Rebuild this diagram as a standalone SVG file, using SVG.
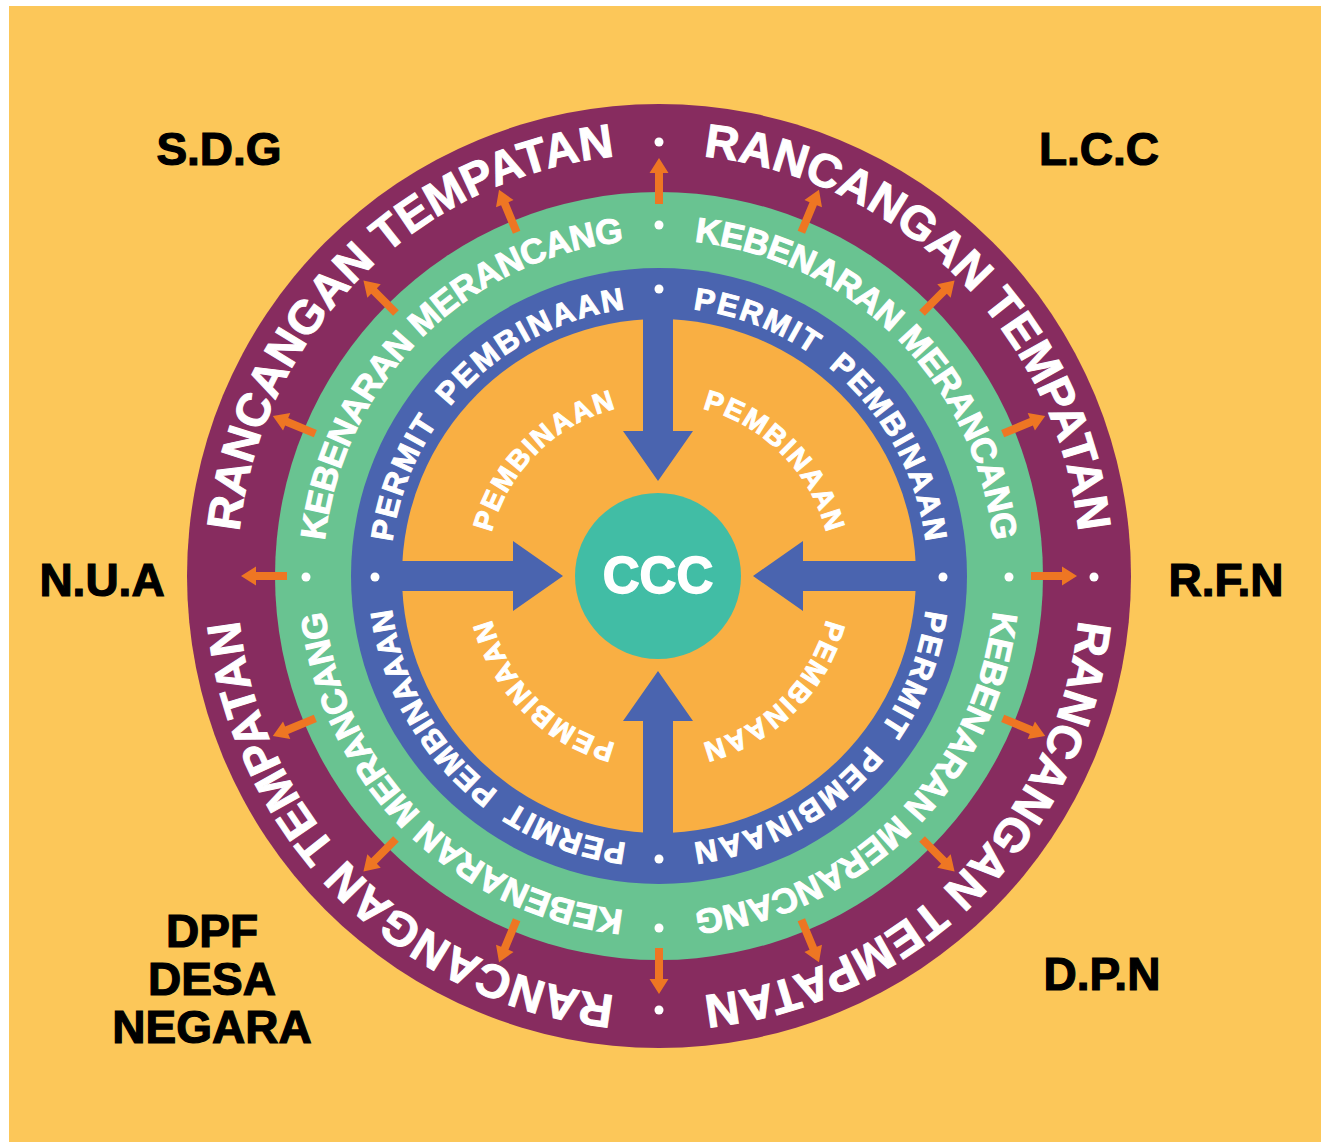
<svg xmlns="http://www.w3.org/2000/svg" xmlns:xlink="http://www.w3.org/1999/xlink" width="1321" height="1142" viewBox="0 0 1321 1142">
<style>
.lbl{font-family:"Liberation Sans",Arial,sans-serif;font-weight:700;fill:#000;text-anchor:middle;stroke:#000;stroke-width:1.2}
.rt{font-family:"Liberation Sans",Arial,sans-serif;font-weight:700;fill:#fff;text-anchor:middle;stroke:#fff;stroke-width:1}
.dot{fill:#fff}
.sa{fill:#EE7623}
.ba{fill:#4A64AF}
</style>
<defs>
<path id="pP" d="M659,154 A422,422 0 0 1 659,998 A422,422 0 0 1 659,154"/>
<path id="pG" d="M659,240 A336,336 0 0 1 659,912 A336,336 0 0 1 659,240"/>
<path id="pB" d="M659,307 A269,269 0 0 1 659,845 A269,269 0 0 1 659,307"/>
<path id="pO" d="M659,403 A173,173 0 0 1 659,749 A173,173 0 0 1 659,403"/>
<path id="smallArrow" d="M-4,-372 L4,-372 L4,-403 L9.5,-403 L0,-418 L-9.5,-403 L-4,-403 Z"/>
<path id="bigArrow" d="M-15,-262 L15,-262 L15,-145 L35,-145 L0,-95 L-35,-145 L-15,-145 Z"/>
</defs>
<rect x="0" y="0" width="1321" height="1142" fill="#fff"/>
<rect x="9" y="6" width="1312" height="1136" fill="#FCC759"/>

<g id="ring-outer">
<circle cx="659" cy="576" r="472" fill="#872C5F"/>
<text class="rt" font-size="47"><textPath href="#pP" startOffset="12.5%" textLength="574" lengthAdjust="spacing">RANCANGAN TEMPATAN</textPath></text>
<text class="rt" font-size="47"><textPath href="#pP" startOffset="37.5%" textLength="574" lengthAdjust="spacing">RANCANGAN TEMPATAN</textPath></text>
<text class="rt" font-size="47"><textPath href="#pP" startOffset="62.5%" textLength="574" lengthAdjust="spacing">RANCANGAN TEMPATAN</textPath></text>
<text class="rt" font-size="47"><textPath href="#pP" startOffset="87.5%" textLength="574" lengthAdjust="spacing">RANCANGAN TEMPATAN</textPath></text>
<circle class="dot" cx="659" cy="142" r="4.5"/>
<circle class="dot" cx="1094" cy="577" r="4.5"/>
<circle class="dot" cx="659" cy="1010" r="4.5"/>
</g>

<g id="ring-green">
<circle cx="659" cy="576" r="384" fill="#69C391"/>
<text class="rt" font-size="35"><textPath href="#pG" startOffset="12.5%" textLength="457" lengthAdjust="spacing">KEBENARAN MERANCANG</textPath></text>
<text class="rt" font-size="35"><textPath href="#pG" startOffset="37.5%" textLength="457" lengthAdjust="spacing">KEBENARAN MERANCANG</textPath></text>
<text class="rt" font-size="35"><textPath href="#pG" startOffset="62.5%" textLength="457" lengthAdjust="spacing">KEBENARAN MERANCANG</textPath></text>
<text class="rt" font-size="35"><textPath href="#pG" startOffset="87.5%" textLength="457" lengthAdjust="spacing">KEBENARAN MERANCANG</textPath></text>
<circle class="dot" cx="659" cy="225" r="4.5"/>
<circle class="dot" cx="1009" cy="577" r="4.5"/>
<circle class="dot" cx="659" cy="928" r="4.5"/>
<circle class="dot" cx="306" cy="577" r="4.5"/>
</g>

<g id="ring-blue">
<circle cx="659" cy="576" r="308" fill="#4A64AF"/>
<text class="rt" font-size="31" word-spacing="8"><textPath href="#pB" startOffset="12.5%" textLength="354" lengthAdjust="spacing">PERMIT PEMBINAAN</textPath></text>
<text class="rt" font-size="31" word-spacing="8"><textPath href="#pB" startOffset="37.5%" textLength="354" lengthAdjust="spacing">PERMIT PEMBINAAN</textPath></text>
<text class="rt" font-size="31" word-spacing="8"><textPath href="#pB" startOffset="62.5%" textLength="357" lengthAdjust="spacing">PERMIT PEMBINAAAN</textPath></text>
<text class="rt" font-size="31" word-spacing="8"><textPath href="#pB" startOffset="87.5%" textLength="354" lengthAdjust="spacing">PERMIT PEMBINAAN</textPath></text>
<circle class="dot" cx="659" cy="289" r="4.5"/>
<circle class="dot" cx="943" cy="577" r="4.5"/>
<circle class="dot" cx="659" cy="859" r="4.5"/>
<circle class="dot" cx="375" cy="577" r="4.5"/>
</g>

<g id="ring-inner">
<circle cx="659" cy="576" r="257" fill="#F9AF43"/>
<text class="rt" font-size="28" stroke-width="0.7"><textPath href="#pO" startOffset="12.5%" textLength="184" lengthAdjust="spacing">PEMBINAAN</textPath></text>
<text class="rt" font-size="28" stroke-width="0.7"><textPath href="#pO" startOffset="37.5%" textLength="184" lengthAdjust="spacing">PEMBINAAN</textPath></text>
<text class="rt" font-size="28" stroke-width="0.7"><textPath href="#pO" startOffset="62.5%" textLength="184" lengthAdjust="spacing">PEMBINAAN</textPath></text>
<text class="rt" font-size="28" stroke-width="0.7"><textPath href="#pO" startOffset="87.5%" textLength="184" lengthAdjust="spacing">PEMBINAAN</textPath></text>
</g>

<g id="connectors">
<use href="#bigArrow" class="ba" transform="translate(658,576) rotate(0)"/>
<use href="#bigArrow" class="ba" transform="translate(658,576) rotate(90)"/>
<use href="#bigArrow" class="ba" transform="translate(658,576) rotate(180)"/>
<use href="#bigArrow" class="ba" transform="translate(658,576) rotate(270)"/>
<use href="#smallArrow" class="sa" transform="translate(659,576) rotate(0)"/>
<use href="#smallArrow" class="sa" transform="translate(659,576) rotate(22.5)"/>
<use href="#smallArrow" class="sa" transform="translate(659,576) rotate(45)"/>
<use href="#smallArrow" class="sa" transform="translate(659,576) rotate(67.5)"/>
<use href="#smallArrow" class="sa" transform="translate(659,576) rotate(90)"/>
<use href="#smallArrow" class="sa" transform="translate(659,576) rotate(112.5)"/>
<use href="#smallArrow" class="sa" transform="translate(659,576) rotate(135)"/>
<use href="#smallArrow" class="sa" transform="translate(659,576) rotate(157.5)"/>
<use href="#smallArrow" class="sa" transform="translate(659,576) rotate(180)"/>
<use href="#smallArrow" class="sa" transform="translate(659,576) rotate(202.5)"/>
<use href="#smallArrow" class="sa" transform="translate(659,576) rotate(225)"/>
<use href="#smallArrow" class="sa" transform="translate(659,576) rotate(247.5)"/>
<use href="#smallArrow" class="sa" transform="translate(659,576) rotate(270)"/>
<use href="#smallArrow" class="sa" transform="translate(659,576) rotate(292.5)"/>
<use href="#smallArrow" class="sa" transform="translate(659,576) rotate(315)"/>
<use href="#smallArrow" class="sa" transform="translate(659,576) rotate(337.5)"/>
</g>

<g id="center-ccc">
<circle cx="658" cy="576" r="83" fill="#41BDA5"/>
<text x="658" y="593" font-family="Liberation Sans, Arial, sans-serif" font-weight="700" font-size="51" fill="#fff" text-anchor="middle" stroke="#fff" stroke-width="1.5">CCC</text>
</g>

<g id="label-sdg"><text class="lbl" x="219" y="165" font-size="46">S.D.G</text></g>
<g id="label-lcc"><text class="lbl" x="1099" y="165" font-size="46">L.C.C</text></g>
<g id="label-nua"><text class="lbl" x="102" y="596" font-size="46">N.U.A</text></g>
<g id="label-rfn"><text class="lbl" x="1226" y="596" font-size="46">R.F.N</text></g>
<g id="label-dpn"><text class="lbl" x="1102" y="990" font-size="46">D.P.N</text></g>
<g id="label-dpf">
<text class="lbl" x="212" y="947" font-size="46">DPF</text>
<text class="lbl" x="212" y="995" font-size="46">DESA</text>
<text class="lbl" x="212" y="1043" font-size="46">NEGARA</text>
</g>
</svg>
